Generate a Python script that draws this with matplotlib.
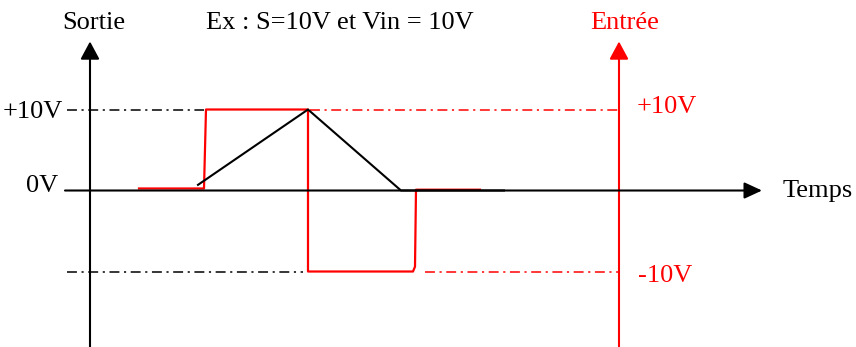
import matplotlib
matplotlib.use("Agg")
import matplotlib.pyplot as plt

# Signal data (time in arbitrary units, voltage in V)
t_entree = [4.9, 11.4, 11.6, 21.8, 21.8, 32.3, 32.5, 32.6, 39.0]
v_entree = [0.25, 0.25, 10.0, 10.0, -10.0, -10.0, -9.4, 0.1, 0.1]

t_sortie = [10.8, 21.8, 31.1, 41.4]
v_sortie = [0.7, 10.0, 0.0, 0.0]

niveaux = [10.0, -10.0]          # saturation levels
t_axe_sortie = 0.0               # left (output) axis
t_axe_entree = 52.9              # right (input) axis
t_fin = 67.2                     # end of the time axis

ROUGE = "#ff0000"
plt.rcParams["font.family"] = ["Liberation Serif", "DejaVu Serif"]
FS = 19

fig = plt.figure(figsize=(8.56, 3.47), dpi=100)
ax = fig.add_axes([0, 0, 1, 1])
ax.set_xlim(-9.0, 76.6)
ax.set_ylim(-19.32, 23.52)
ax.axis("off")

dashdot = (0, (6.5, 3, 1.4, 3))

# dash-dot guide lines
ax.plot([-2.3, t_entree[1]], [niveaux[0]] * 2, color="k", lw=1.1, linestyle=dashdot)
ax.plot([-2.3, 21.3], [niveaux[1]] * 2, color="k", lw=1.1, linestyle=dashdot)
ax.plot([22.0, t_axe_entree], [niveaux[0]] * 2, color=ROUGE, lw=1.1, linestyle=dashdot)
ax.plot([33.5, t_axe_entree], [niveaux[1]] * 2, color=ROUGE, lw=1.1, linestyle=dashdot)

# axes with arrow heads
arrow_v = dict(arrowstyle="-|>,head_length=0.54,head_width=0.29", mutation_scale=20,
               lw=1.5, shrinkA=0, shrinkB=0)
ax.annotate("", xy=(t_axe_sortie, 18.4), xytext=(t_axe_sortie, -19.3),
            arrowprops=dict(arrow_v, color="k"))
ax.annotate("", xy=(t_axe_entree, 18.4), xytext=(t_axe_entree, -19.3),
            arrowprops=dict(arrow_v, color=ROUGE))
ax.annotate("", xy=(t_fin, 0.0), xytext=(-2.5, 0.0),
            arrowprops=dict(arrowstyle="-|>,head_length=0.54,head_width=0.25",
                            mutation_scale=20, lw=1.5, color="k",
                            shrinkA=0, shrinkB=0))

# signals
ax.plot(t_entree, v_entree, color=ROUGE, lw=1.6, solid_joinstyle="round")
ax.plot(t_sortie, v_sortie, color="k", lw=1.5)

# labels
ax.text(-2.8, 19.9, "Sortie", fontsize=FS, va="baseline")
ax.text(11.6, 19.9, "Ex : S=10V et Vin = 10V", fontsize=FS, va="baseline")
ax.text(50.0, 19.9, "Entrée", fontsize=FS, va="baseline", color=ROUGE)
ax.text(-2.7, 8.95, "+10V", fontsize=FS, va="baseline", ha="right")
ax.text(-3.2, -0.19, "0V", fontsize=FS, va="baseline", ha="right")
ax.text(54.7, 9.57, "+10V", fontsize=FS, va="baseline", color=ROUGE)
ax.text(54.8, -11.3, "-10V", fontsize=FS, va="baseline", color=ROUGE)
ax.text(69.3, -0.8, "Temps", fontsize=FS, va="baseline")

fig.savefig("out.png", dpi=100, facecolor="white")
